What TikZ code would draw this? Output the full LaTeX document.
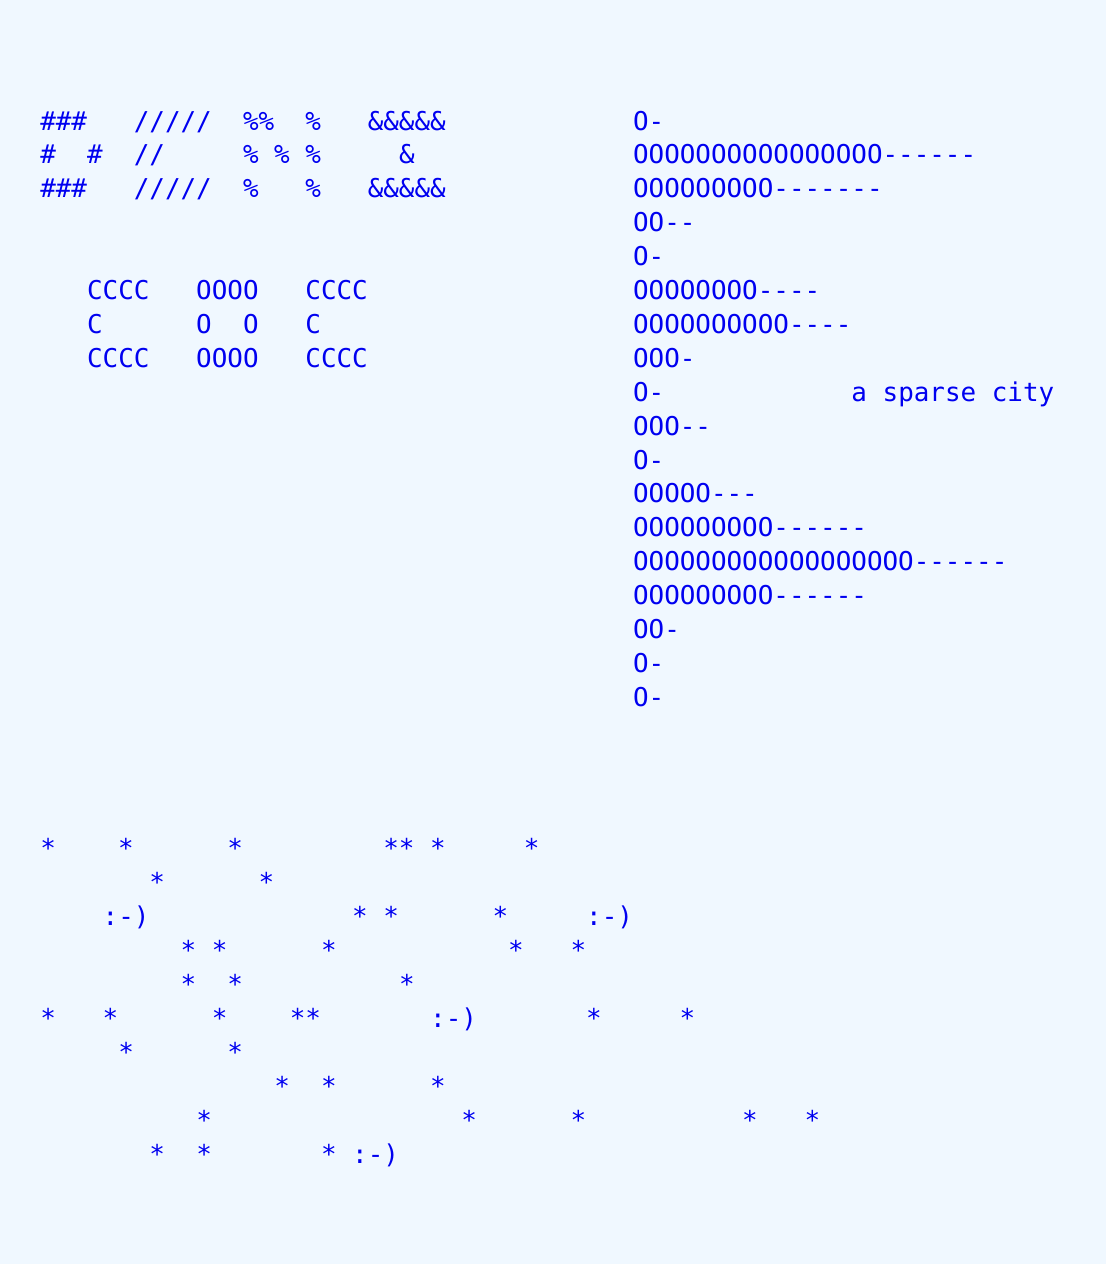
\documentclass[tikz,border=0pt]{standalone}
\usepackage{fontspec}
\setmonofont{DejaVu Sans Mono}[Ligatures=TeXOff]
\usepackage{tikz}
\usepackage{xcolor}

\definecolor{skybg}{RGB}{240,248,255}
\definecolor{asciiink}{RGB}{0,0,240}
\tikzset{
  ascii/.style={anchor=base west, inner sep=0pt, text=asciiink, font=\ttfamily\fontsize{19.43}{23}\selectfont},
}

\begin{document}
\begin{tikzpicture}[x=0.75pt,y=0.75pt,yscale=-1,xscale=1]
%set diagram left start at 0, and has height of 1264
\fill [skybg] (0,0) rectangle (1106,1264) ;
\useasboundingbox (0,0) rectangle (1106,1264) ;

% Text Node
\node (logo0) [ascii] at (40,130) {\#\#\#~~~/////~~\%\%~~\%~~~\&\&\&\&\&};
% Text Node
\node (logo1) [ascii] at (40,163.9) {\#~~\#~~//~~~~~\%~\%~\%~~~~~\&};
% Text Node
\node (logo2) [ascii] at (40,197.8) {\#\#\#~~~/////~~\%~~~\%~~~\&\&\&\&\&};
% Text Node
\node (coc0) [ascii] at (86.8,299.5) {CCCC~~~OOOO~~~CCCC};
% Text Node
\node (coc1) [ascii] at (86.8,333.4) {C~~~~~~O~~O~~~C};
% Text Node
\node (coc2) [ascii] at (86.8,367.3) {CCCC~~~OOOO~~~CCCC};

% Text Node
\node (bar0) [ascii] at (632.8,130) {O-};
% Text Node
\node (bar1) [ascii] at (632.8,163.9) {OOOOOOOOOOOOOOOO------};
% Text Node
\node (bar2) [ascii] at (632.8,197.8) {OOOOOOOOO-------};
% Text Node
\node (bar3) [ascii] at (632.8,231.7) {OO--};
% Text Node
\node (bar4) [ascii] at (632.8,265.6) {O-};
% Text Node
\node (bar5) [ascii] at (632.8,299.5) {OOOOOOOO----};
% Text Node
\node (bar6) [ascii] at (632.8,333.4) {OOOOOOOOOO----};
% Text Node
\node (bar7) [ascii] at (632.8,367.3) {OOO-};
% Text Node
\node (bar8) [ascii] at (632.8,401.2) {O-};
% Text Node
\node (bar9) [ascii] at (632.8,435.1) {OOO--};
% Text Node
\node (bar10) [ascii] at (632.8,469) {O-};
% Text Node
\node (bar11) [ascii] at (632.8,502.9) {OOOOO---};
% Text Node
\node (bar12) [ascii] at (632.8,536.8) {OOOOOOOOO------};
% Text Node
\node (bar13) [ascii] at (632.8,570.7) {OOOOOOOOOOOOOOOOOO------};
% Text Node
\node (bar14) [ascii] at (632.8,604.6) {OOOOOOOOO------};
% Text Node
\node (bar15) [ascii] at (632.8,638.5) {OO-};
% Text Node
\node (bar16) [ascii] at (632.8,672.4) {O-};
% Text Node
\node (bar17) [ascii] at (632.8,706.3) {O-};
% Text Node
\node (city) [ascii] at (851.2,401.2) {a sparse city};

% Text Node
\node (sky0) [ascii] at (40,857) {*~~~~*~~~~~~*~~~~~~~~~**~*~~~~~*};
% Text Node
\node (sky1) [ascii] at (149.2,891) {*~~~~~~*};
% Text Node
\node (sky2) [ascii] at (102.4,925) {:-)~~~~~~~~~~~~~*~*~~~~~~*~~~~~:-)};
% Text Node
\node (sky3) [ascii] at (180.4,959) {*~*~~~~~~*~~~~~~~~~~~*~~~*};
% Text Node
\node (sky4) [ascii] at (180.4,993) {*~~*~~~~~~~~~~*};
% Text Node
\node (sky5) [ascii] at (40,1027) {*~~~*~~~~~~*~~~~**~~~~~~~:-)~~~~~~~*~~~~~*};
% Text Node
\node (sky6) [ascii] at (118,1061) {*~~~~~~*};
% Text Node
\node (sky7) [ascii] at (274,1095) {*~~*~~~~~~*};
% Text Node
\node (sky8) [ascii] at (196,1129) {*~~~~~~~~~~~~~~~~*~~~~~~*~~~~~~~~~~*~~~*};
% Text Node
\node (sky9) [ascii] at (149.2,1163) {*~~*~~~~~~~*~:-)};

\end{tikzpicture}
\end{document}
